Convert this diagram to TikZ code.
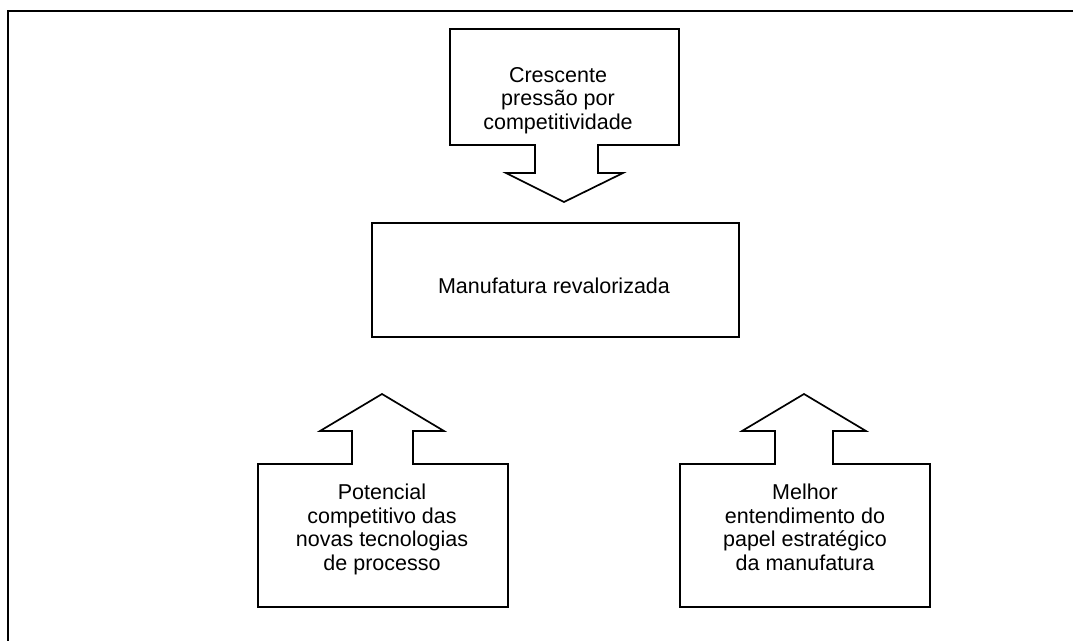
\documentclass[tikz,border=0pt]{standalone}
\usepackage{fontspec}
\setmainfont{Liberation Sans}
\begin{document}
\begin{tikzpicture}[x=1pt,y=-1pt,
  shapeline/.style={draw=black,line width=1.7pt,line join=miter,fill=white},
  frameline/.style={draw=black,line width=2.2pt},
  label/.style={align=center,inner sep=0pt,anchor=base,font=\fontsize{21.5}{23.4}\selectfont}]
\useasboundingbox (0,0) rectangle (1073,640);
% outer frame (top and left edges)
\draw[frameline] (8,641) -- (8,11) -- (1073,11);
% top callout (arrow down)
\draw[shapeline] (450,29) -- (679,29) -- (679,145) -- (598,145) -- (598,173) -- (623,173)
  -- (564,202) -- (506,173) -- (535,173) -- (535,145) -- (450,145) -- cycle;
\node[label] (top) at (558,129) {Crescente\\pressão por\\competitividade};
% middle box
\draw[shapeline] (372,223) rectangle (739,337);
\node[label] (mid) at (554,293) {Manufatura revalorizada};
% bottom left callout (arrow up)
\draw[shapeline] (258,464) -- (352,464) -- (352,431) -- (320,431) -- (382,394) -- (444,431)
  -- (413,431) -- (413,464) -- (508,464) -- (508,607) -- (258,607) -- cycle;
\node[label] (left) at (382,570) {Potencial\\competitivo das\\novas tecnologias\\de processo};
% bottom right callout (arrow up)
\draw[shapeline] (680,464) -- (775,464) -- (775,431) -- (742,431) -- (804,394) -- (866,431)
  -- (833,431) -- (833,464) -- (930,464) -- (930,607) -- (680,607) -- cycle;
\node[label] (right) at (805,570) {Melhor\\entendimento do\\papel estratégico\\da manufatura};
\end{tikzpicture}
\end{document}
